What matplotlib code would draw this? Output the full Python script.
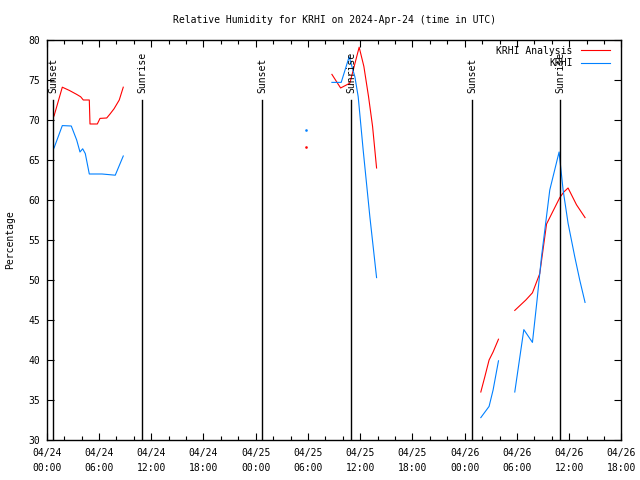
import matplotlib
matplotlib.use("Agg")
import matplotlib.pyplot as plt
import matplotlib.dates as mdates
from matplotlib.ticker import MultipleLocator
import numpy as np
import pandas as pd

start = pd.Timestamp("2024-04-24 00:00")
nan = np.nan

# hours after 04/24 00:00 UTC, NaN marks a gap in the record
analysis_hours = [0.84, 1.79, 2.59, 3.44, 3.90, 4.20, 4.89, 4.97, 5.81, 6.12, 6.89, 7.27, 7.73, 8.33, 8.79,
                  nan,
                  32.75, 33.75, 34.81, 35.88, 36.42, 36.96, 37.42, 37.88,
                  nan,
                  49.85, 50.31, 50.80, 51.26, 51.88,
                  nan,
                  53.75, 55.02, 55.78, 56.62, 57.40, 58.92, 59.38, 59.87, 60.84, 61.82]
analysis_rh = [70.5, 74.1, 73.7, 73.2, 72.9, 72.5, 72.5, 69.5, 69.5, 70.2, 70.25, 70.75, 71.4, 72.5, 74.1,
               nan,
               75.7, 74.0, 74.6, 79.1, 76.7, 72.9, 69.2, 64.0,
               nan,
               36.0, 37.9, 40.0, 41.0, 42.6,
               nan,
               46.2, 47.5, 48.4, 50.8, 57.0, 60.3, 61.0, 61.5, 59.4, 57.8]

obs_hours = [0.84, 1.79, 2.82, 3.44, 3.82, 4.13, 4.43, 4.89, 6.35, 7.87, 8.79,
             nan,
             32.75, 33.82, 34.73, 35.39, 35.77, 36.34, 37.11, 37.88,
             nan,
             49.85, 50.80, 51.26, 51.88,
             nan,
             53.75, 54.79, 55.78, 56.31, 56.62, 56.82, 57.77, 58.84, 59.30, 59.87, 60.64, 61.21, 61.82]
obs_rh = [66.5, 69.3, 69.25, 67.5, 66.0, 66.4, 65.8, 63.25, 63.25, 63.1, 65.5,
          nan,
          74.7, 74.7, 77.9, 75.4, 72.9, 66.25, 57.9, 50.3,
          nan,
          32.8, 34.2, 36.25, 39.9,
          nan,
          36.0, 43.8, 42.2, 47.5, 50.8, 52.9, 61.25, 66.0, 61.25, 57.1, 52.9, 50.0, 47.2]

# lone values with no neighbours
dot_hours = [29.76]
dot_analysis = [66.6]
dot_obs = [68.8]

sun_hours = [0.76, 10.95, 24.75, 34.96, 48.85, 58.95]
sun_labels = ["Sunset", "Sunrise", "Sunset", "Sunrise", "Sunset", "Sunrise"]

t0 = mdates.date2num(start.to_pydatetime())


def to_time(hours):
    # date numbers in days, NaN stays NaN so the gaps survive
    return t0 + np.asarray(hours, dtype=float) / 24.0


mono = "DejaVu Sans Mono"
plt.rcParams["font.family"] = mono
plt.rcParams["font.size"] = 7

fig = plt.figure(figsize=(6.4, 4.8), dpi=100)
ax = fig.add_axes([0.073, 0.0833, 0.898, 0.8334])

red = "#ff0000"
blue = "#0080ff"

ax.plot(to_time(analysis_hours), analysis_rh, color=red, lw=0.8, label="KRHI Analysis")
ax.plot(to_time(obs_hours), obs_rh, color=blue, lw=0.8, label="KRHI")
ax.plot(to_time(dot_hours), dot_analysis, ls="none", marker="s", ms=0.8, color=red)
ax.plot(to_time(dot_hours), dot_obs, ls="none", marker="s", ms=0.8, color=blue)

for t, lab in zip(to_time(sun_hours), sun_labels):
    ax.plot([t, t], [30, 72.5], color="black", lw=1, zorder=3)
    ax.text(t, 73.4, lab, rotation=90, ha="center", va="bottom", fontsize=7)

ax.xaxis_date()
ax.set_xlim(t0, t0 + 66 / 24.0)
ax.set_ylim(30, 80)

ax.xaxis.set_major_locator(mdates.HourLocator(byhour=range(0, 24, 6)))
ax.xaxis.set_minor_locator(mdates.HourLocator(byhour=range(0, 24, 2)))
ax.xaxis.set_major_formatter(mdates.DateFormatter("%m/%d\n%H:%M"))
ax.yaxis.set_major_locator(MultipleLocator(5))

ax.tick_params(which="both", direction="in", top=True, right=True, labelsize=7, width=0.8)
ax.tick_params(which="major", length=5, pad=6)
ax.tick_params(which="minor", length=3)
ax.tick_params(axis="y", pad=5)
for sp in ax.spines.values():
    sp.set_linewidth(1)

ax.set_ylabel("Percentage", fontsize=7, labelpad=9)
ax.set_title("Relative Humidity for KRHI on 2024-Apr-24 (time in UTC)", fontsize=7, pad=12)

ax.legend(loc="upper right", bbox_to_anchor=(0.995, 1.008), frameon=False, markerfirst=False,
          handlelength=3.0, handletextpad=0.8, labelspacing=0.3, fontsize=7)

fig.canvas.draw()
for lbl in ax.get_xticklabels():
    lbl.set_linespacing(1.6)

fig.savefig("out.png", dpi=100)
